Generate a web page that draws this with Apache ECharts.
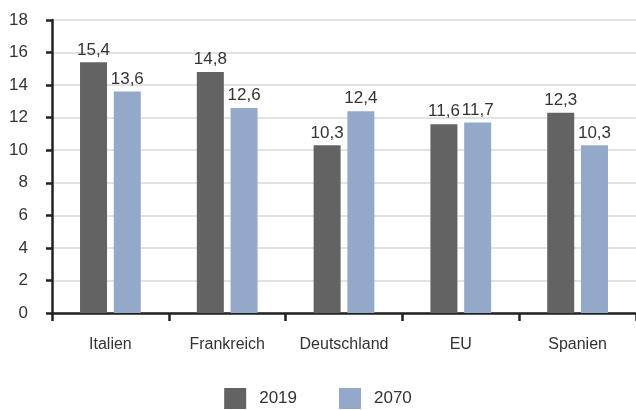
<!DOCTYPE html>
<html>
<head>
    <meta charset="utf-8">
    <script src="https://cdn.jsdelivr.net/npm/echarts@6/dist/echarts.min.js"></script>
    <style>
        html, body { margin: 0; padding: 0; background: #fff; }
        #container { width: 636px; height: 410px; }
    </style>
</head>
<body>
    <div id="container"></div>
    <script type="text/javascript">
        var categories = ['Italien', 'Frankreich', 'Deutschland', 'EU', 'Spanien'];
        var data2019 = [15.4, 14.8, 10.3, 11.6, 12.3];
        var data2070 = [13.6, 12.6, 12.4, 11.7, 10.3];
        var seriesNames = ['2019', '2070'];

        var font = "'Liberation Sans Narrow', 'Arial Narrow', 'Liberation Sans', sans-serif";
        var myChart = echarts.init(document.getElementById('container'), null, { renderer: 'canvas' });

        function commaLabel(p) {
            return String(p.value).replace('.', ',');
        }

        var option = {
            animation: false,
            grid: { left: 52, right: -6, top: 20, bottom: 97 },
            legend: {
                bottom: -4,
                left: 'center',
                itemWidth: 22,
                itemHeight: 21,
                itemGap: 42,
                icon: 'rect',
                textStyle: { fontFamily: font, fontSize: 17, color: '#333', padding: [0, 0, 0, 8] },
                data: seriesNames
            },
            xAxis: {
                type: 'category',
                data: categories,
                axisLine: { lineStyle: { color: '#222', width: 2.5 } },
                axisTick: { show: true, length: 8, lineStyle: { color: '#222', width: 2.5 } },
                axisLabel: { fontFamily: font, fontSize: 16, color: '#333', margin: 24 }
            },
            yAxis: {
                type: 'value',
                min: 0,
                max: 18,
                interval: 2,
                axisLine: { show: true, lineStyle: { color: '#222', width: 2.5 } },
                axisTick: { show: true, length: 6, lineStyle: { color: '#222', width: 2.5 } },
                axisLabel: { fontFamily: font, fontSize: 17, color: '#333', margin: 24 },
                splitLine: { lineStyle: { color: '#d9d9d9', width: 1.5 } }
            },
            series: [
                {
                    name: seriesNames[0],
                    type: 'bar',
                    data: data2019,
                    barWidth: 27,
                    barGap: '25%',
                    itemStyle: { color: '#636363' },
                    label: { show: true, position: 'top', formatter: commaLabel, fontFamily: font, fontSize: 17, color: '#333', distance: 4 }
                },
                {
                    name: seriesNames[1],
                    type: 'bar',
                    data: data2070,
                    barWidth: 27,
                    itemStyle: { color: '#93a9c9' },
                    label: { show: true, position: 'top', formatter: commaLabel, fontFamily: font, fontSize: 17, color: '#333', distance: 4 }
                }
            ]
        };

        myChart.setOption(option);
        window.addEventListener('resize', myChart.resize);
    </script>
</body>
</html>
